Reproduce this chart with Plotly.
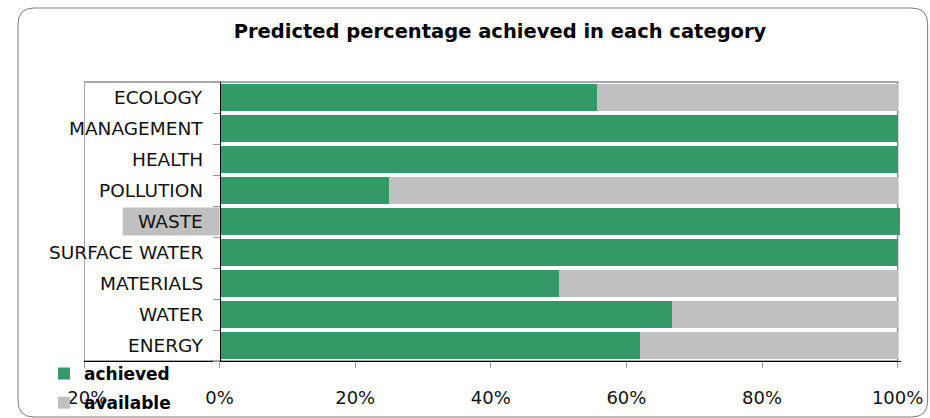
import plotly.graph_objects as go

categories = ["ENERGY", "WATER", "MATERIALS", "SURFACE WATER", "WASTE",
              "POLLUTION", "HEALTH", "MANAGEMENT", "ECOLOGY"]
achieved = [62.0, 66.7, 50.0, 100.0, 100.4, 25.0, 100.0, 100.0, 55.6]
available = [38.0, 33.3, 50.0, 0.0, 0.0, 75.0, 0.0, 0.0, 44.4]
tick_vals = [-20, 0, 20, 40, 60, 80, 100]
tick_text = ["-20%", "0%", "20%", "40%", "60%", "80%", "100%"]
title_text = "Predicted percentage achieved in each category"
highlight = "WASTE"

GREEN = "#339966"
GREY = "#C0C0C0"
FONT = "DejaVu Sans"

W, H = 930, 418
XMIN, XMAX = -20, 100.5
PX_PER = 6.783  # px per percent
L = 84
T = 82
B = 57
plot_w = (XMAX - XMIN) * PX_PER
R = W - L - plot_w
plot_h = H - T - B


def px_to_paper_x(px):
    return (px - L) / plot_w


def px_to_paper_y(py):
    return 1 - (py - T) / plot_h


fig = go.Figure()
fig.add_trace(go.Bar(y=categories, x=achieved, orientation="h", name="achieved",
                     marker=dict(color=GREEN, line=dict(width=0)), legendgroup="a"))
fig.add_trace(go.Bar(y=categories, x=available, orientation="h", name="available",
                     marker=dict(color=GREY, line=dict(width=0)), legendgroup="b"))

bargap = 0.1
shapes = []
# highlight behind WASTE label
hi = categories.index(highlight)
shapes.append(dict(type="rect", xref="x", yref="y", x0=-14.3, x1=0,
                   y0=hi - (1 - bargap) / 2, y1=hi + (1 - bargap) / 2,
                   fillcolor=GREY, line=dict(width=0), layer="below"))
# plot frame
shapes.append(dict(type="rect", xref="x", yref="paper", x0=-20, x1=100, y0=0, y1=1,
                   line=dict(color="#8c8c8c", width=1.5), layer="below"))


def P(px, py):
    return f"{px_to_paper_x(px):.5f},{px_to_paper_y(py):.5f}"


# rounded chart border
x0p, x1p, y0p, y1p, r = 18, 928, 8, 417, 16
path = (f"M {P(x0p, y0p + r)} Q {P(x0p, y0p)} {P(x0p + r, y0p)} "
        f"L {P(x1p - r, y0p)} Q {P(x1p, y0p)} {P(x1p, y0p + r)} "
        f"L {P(x1p, y1p - r)} Q {P(x1p, y1p)} {P(x1p - r, y1p)} "
        f"L {P(x0p + r, y1p)} Q {P(x0p, y1p)} {P(x0p, y1p - r)} Z")
shapes.append(dict(type="path", xref="paper", yref="paper", path=path,
                   line=dict(color="#7a7a7a", width=1)))

annotations = []
for c in categories:
    annotations.append(dict(x=-2.2, y=c, xref="x", yref="y", text=c, showarrow=False,
                            xanchor="right", yanchor="middle",
                            font=dict(family=FONT, size=18.5, color="#111111")))

fig.update_layout(
    width=W, height=H,
    margin=dict(l=L, r=R, t=T, b=B, autoexpand=False),
    barmode="stack", bargap=bargap,
    paper_bgcolor="white", plot_bgcolor="white",
    title=dict(text=f"<b>{title_text}</b>", xref="container", yref="container",
               x=500 / W, y=1 - 31 / H, xanchor="center", yanchor="middle",
               font=dict(family=FONT, size=19.5, color="#000000")),
    font=dict(family=FONT, size=18, color="#111111"),
    xaxis=dict(range=[XMIN, XMAX], tickvals=tick_vals, ticktext=tick_text,
               showgrid=False, zeroline=False, showline=True, linecolor="#000000",
               linewidth=1, ticks="outside", ticklen=6, tickcolor="#999999",
               ticklabelstandoff=14, tickfont=dict(family=FONT, size=18, color="#111111")),
    yaxis=dict(categoryorder="array", categoryarray=categories, range=[-0.5, 8.5],
               anchor="free", position=(0 - XMIN) / (XMAX - XMIN),
               showticklabels=False, showgrid=False, zeroline=False,
               showline=True, linecolor="#000000", linewidth=1,
               ticks="outside", ticklen=7, tickcolor="#999999", tickson="boundaries"),
    showlegend=True,
    legend=dict(xref="container", yref="container", x=44 / W, y=1 - 356 / H,
                xanchor="left", yanchor="top", traceorder="grouped", tracegroupgap=4,
                bgcolor="rgba(0,0,0,0)",
                font=dict(family=FONT, size=17, color="#000000", weight="bold")),
    shapes=shapes,
    annotations=annotations,
)

fig.write_html("out.html")
